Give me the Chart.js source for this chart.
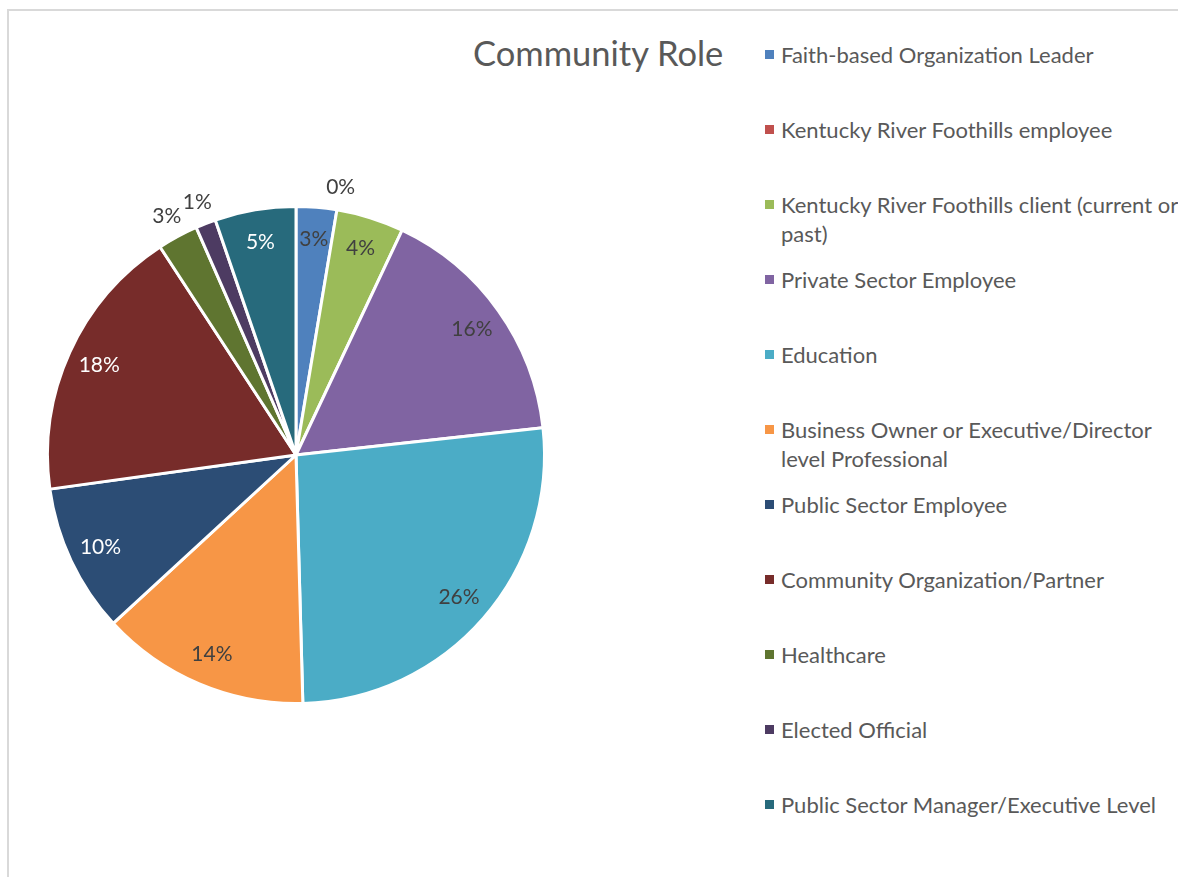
<!DOCTYPE html>
<html>
<head>
<meta charset="utf-8">
<script src="https://cdn.jsdelivr.net/npm/chart.js@4.4.1/dist/chart.umd.min.js"></script>
<style>
  html, body { margin: 0; padding: 0; background: #fff; overflow: hidden; }
  body { width: 1178px; height: 877px; position: relative; font-family: Lato, "Open Sans", sans-serif; }
  .frame { position: absolute; left: 7px; top: 9px; width: 1300px; height: 1000px;
           border-left: 2px solid #d9d9d9; border-top: 2px solid #d9d9d9; }
  .pie-box { position: absolute; left: 0; top: 155px; width: 592px; height: 600px; }
  .title { position: absolute; left: 473px; top: 32px; font-size: 34.5px; color: #595959; white-space: nowrap; }
  .legend { position: absolute; left: 765px; top: 0; width: 413px; height: 877px; overflow: hidden; }
  .legend .item { position: absolute; left: 0; white-space: nowrap; font-size: 22px; line-height: 29px; color: #595959; }
  .legend .box { position: absolute; left: 0; top: 10px; width: 9px; height: 9px; }
  .legend .txt { margin-left: 16px; }
</style>
</head>
<body>
<div class="frame"></div>
<div class="title">Community Role</div>
<div class="pie-box"><canvas id="pie"></canvas></div>
<div class="legend" id="legend"></div>
<script>
// data (approx. respondent counts)
const categories = [
  "Faith-based Organization Leader",
  "Kentucky River Foothills employee",
  ["Kentucky River Foothills client (current or", "past)"],
  "Private Sector Employee",
  "Education",
  ["Business Owner or Executive/Director", "level Professional"],
  "Public Sector Employee",
  "Community Organization/Partner",
  "Healthcare",
  "Elected Official",
  "Public Sector Manager/Executive Level"
];
const counts = [6, 0, 10, 37, 60, 31, 22, 41, 6, 3, 12];
const colors = ["#4F81BD", "#C0504D", "#9BBB59", "#8064A2", "#4BACC6", "#F79646",
                "#2C4D75", "#772C2A", "#5F7530", "#4D3B62", "#276A7C"];
// slices whose percent label sits outside the pie
const outsideLabels = [1, 8, 9];

const total = counts.reduce((a, b) => a + b, 0);

function isDark(hex) {
  const r = parseInt(hex.slice(1, 3), 16), g = parseInt(hex.slice(3, 5), 16), b = parseInt(hex.slice(5, 7), 16);
  return 0.299 * r + 0.587 * g + 0.114 * b < 100;
}

// percent labels, drawn like excel's best fit
const pctLabels = {
  id: "pctLabels",
  afterDatasetsDraw(chart) {
    const ctx = chart.ctx;
    const meta = chart.getDatasetMeta(0);
    ctx.save();
    ctx.font = "21px Lato, 'Open Sans', sans-serif";
    ctx.textAlign = "center";
    ctx.textBaseline = "middle";
    meta.data.forEach((arc, i) => {
      const p = arc.getProps(["x", "y", "startAngle", "endAngle", "outerRadius"], true);
      const mid = (p.startAngle + p.endAngle) / 2;
      const outside = outsideLabels.includes(i);
      const r = outside ? p.outerRadius + 23 : p.outerRadius * 0.87;
      const x = p.x + Math.cos(mid) * r;
      const y = p.y + Math.sin(mid) * r;
      ctx.fillStyle = (!outside && isDark(colors[i])) ? "#ffffff" : "#404040";
      ctx.fillText(Math.round(counts[i] / total * 100) + "%", x, y);
    });
    ctx.restore();
  }
};

new Chart(document.getElementById("pie"), {
  type: "pie",
  data: {
    labels: categories,
    datasets: [{
      data: counts,
      backgroundColor: colors,
      borderColor: "#ffffff",
      borderWidth: 3
    }]
  },
  options: {
    responsive: true,
    maintainAspectRatio: false,
    animation: false,
    layout: { padding: { left: 46, right: 46, top: 50, bottom: 50 } },
    plugins: {
      legend: { display: false },
      tooltip: { enabled: false }
    }
  },
  plugins: [pctLabels]
});

// legend on the right
const rowTops = [40, 115, 190, 265, 340, 415, 490, 565, 640, 715, 790];
const legend = document.getElementById("legend");
categories.forEach((c, i) => {
  const item = document.createElement("div");
  item.className = "item";
  item.style.top = rowTops[i] + "px";
  const box = document.createElement("div");
  box.className = "box";
  box.style.background = colors[i];
  const txt = document.createElement("div");
  txt.className = "txt";
  txt.innerHTML = [].concat(c).join("<br>");
  item.appendChild(box);
  item.appendChild(txt);
  legend.appendChild(item);
});
</script>
</body>
</html>
